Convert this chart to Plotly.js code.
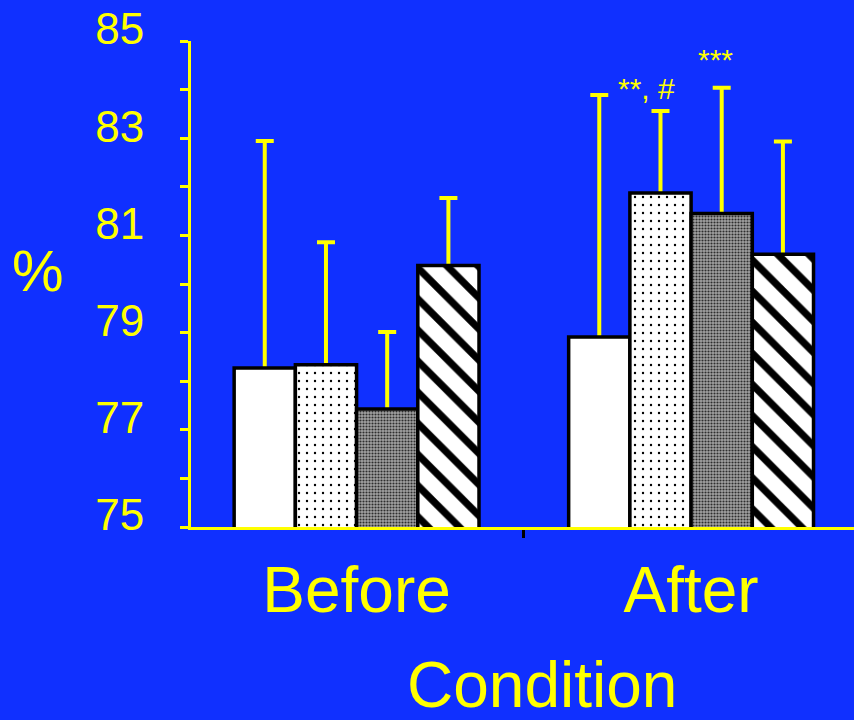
<!DOCTYPE html>
<html>
<head>
<meta charset="utf-8">
<script src="https://cdn.plot.ly/plotly-3.0.1.min.js"></script>
<style>
  html, body { margin: 0; padding: 0; background: #1030ff; }
  #chart { width: 854px; height: 720px; }
</style>
</head>
<body>
<div id="chart"></div>
<script>
// ---- data ----
const categories = ["Before", "After"];
const seriesNames = ["Series 1", "Series 2", "Series 3", "Series 4"];
const series1 = [78.27, 78.91];
const series2 = [78.34, 81.87];
const series3 = [77.43, 81.45];
const series4 = [80.38, 80.61];
const err1 = [4.67, 4.98];
const err2 = [2.52, 1.69];
const err3 = [1.58, 2.59];
const err4 = [1.39, 2.32];
const yTickVals = [75, 77, 79, 81, 83, 85];
const annotationTexts = ["**, #", "***"];

const BLUE = "#1030ff";
const YEL = "#ffff00";
const FONT = "Liberation Sans, Arial, sans-serif";

const patterns = [
  { shape: "", bgcolor: "#ffffff" },
  { shape: ".", fgcolor: "#000000", bgcolor: "#ffffff", size: 8, solidity: 0.07, fillmode: "replace" },
  { shape: ".", fgcolor: "#2e2e2e", bgcolor: "#a2a2a2", size: 3, solidity: 0.38, fillmode: "replace" },
  { shape: "\\", fgcolor: "#000000", bgcolor: "#ffffff", size: 22, solidity: 0.33, fillmode: "replace" }
];
const ys = [series1, series2, series3, series4];
const errs = [err1, err2, err3, err4];

// Error bars (upper only): drawn first, on transparent bars in the same slot,
// so the opaque bars drawn afterwards hide the lower part of each whisker.
const errorTraces = ys.map((y, i) => ({
  type: "bar",
  name: seriesNames[i] + " error",
  x: categories,
  y: y,
  offsetgroup: String(i),
  marker: { color: "rgba(0,0,0,0)", line: { width: 0 } },
  error_y: {
    type: "data",
    symmetric: false,
    array: errs[i],
    arrayminus: y,
    color: YEL,
    thickness: 4,
    width: 9
  },
  hoverinfo: "none"
}));

const barTraces = ys.map((y, i) => ({
  type: "bar",
  name: seriesNames[i],
  x: categories,
  y: y,
  offsetgroup: String(i),
  marker: {
    color: "#ffffff",
    pattern: patterns[i],
    line: { color: "#000000", width: 3.5 }
  },
  hoverinfo: "none"
}));

const layout = {
  width: 854,
  height: 720,
  paper_bgcolor: BLUE,
  plot_bgcolor: BLUE,
  showlegend: false,
  barmode: "group",
  bargap: 0.268,
  bargroupgap: 0,
  margin: { l: 191, r: 0, t: 40.7, b: 193.3, pad: 0 },
  font: { family: FONT, color: YEL },
  xaxis: {
    type: "category",
    range: [-0.495, 1.487],
    showline: true,
    linecolor: YEL,
    linewidth: 3,
    showgrid: false,
    zeroline: false,
    ticks: "outside",
    tickson: "boundaries",
    ticklen: 8,
    tickwidth: 3,
    tickcolor: "#000000",
    tickfont: { family: FONT, size: 64, color: YEL },
    ticklabelstandoff: 5
  },
  yaxis: {
    range: [75, 85],
    tickvals: yTickVals,
    showline: true,
    linecolor: YEL,
    linewidth: 3,
    showgrid: false,
    zeroline: false,
    ticks: "outside",
    ticklen: 8,
    tickwidth: 3,
    tickcolor: YEL,
    minor: { dtick: 1, tick0: 75, ticks: "outside", ticklen: 8, tickwidth: 3, tickcolor: YEL, showgrid: false },
    tickfont: { family: FONT, size: 44, color: YEL },
    ticklabelshift: -12,
    ticklabelstandoff: 27
  },
  annotations: [
    { text: "%", xref: "paper", yref: "paper", x: -0.231, y: 0.528, xanchor: "center", yanchor: "middle",
      showarrow: false, font: { family: FONT, size: 58, color: YEL } },
    { text: "Condition", xref: "paper", yref: "paper", x: 0.529, y: -0.4025, xanchor: "center", yanchor: "bottom",
      showarrow: false, font: { family: FONT, size: 64, color: YEL } },
    { text: annotationTexts[0], xref: "x", yref: "y", x: 0.868, y: 84.03, xanchor: "center", yanchor: "middle",
      showarrow: false, font: { family: FONT, size: 30, color: YEL } },
    { text: annotationTexts[1], xref: "x", yref: "y", x: 1.074, y: 84.62, xanchor: "center", yanchor: "middle",
      showarrow: false, font: { family: FONT, size: 30, color: YEL } }
  ]
};

Plotly.newPlot("chart", errorTraces.concat(barTraces), layout, { staticPlot: true, displayModeBar: false });
</script>
</body>
</html>
